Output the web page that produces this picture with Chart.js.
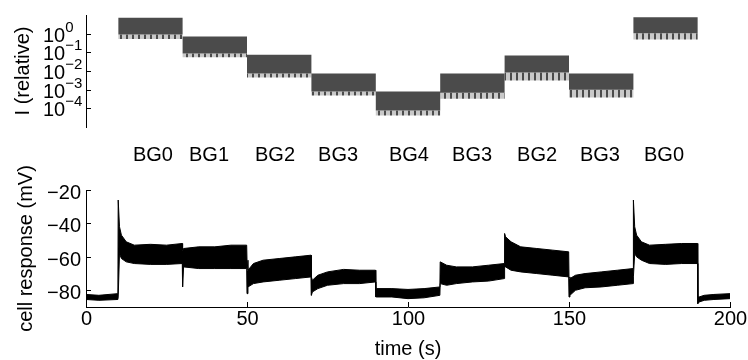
<!DOCTYPE html>
<html>
<head>
<meta charset="utf-8">
<script src="https://cdn.jsdelivr.net/npm/chart.js@4.4.1/dist/chart.umd.min.js"></script>
<style>
  html, body { margin: 0; padding: 0; background: #fff; }
  #top { position: absolute; left: 0; top: 0; width: 748px; height: 140px; }
  #bot { position: absolute; left: 0; top: 140px; width: 748px; height: 220px; }
</style>
</head>
<body>
<div id="top"><canvas id="c1"></canvas></div>
<div id="bot"><canvas id="c2"></canvas></div>
<script>
// stimulus intensity: one background level per 20 s segment
const segStart = [10, 30, 50, 70, 90, 110, 130, 150, 170, 190];
const bandTop   = [7.2, 0.71, 0.074, 0.0074, 0.00079, 0.0074, 0.068, 0.0074, 7.6];
const bandBody  = [0.91, 0.087, 0.0074, 0.00079, 0.000076, 0.00069, 0.0083, 0.001, 1.05];
const bandSpike = [0.52, 0.054, 0.0045, 0.00048, 0.000041, 0.00033, 0.0031, 0.00038, 0.49];
const intensityTicks = [1, 0.1, 0.01, 0.001, 0.0001];

// background labels and where they sit (s)
const bgLabels = ['BG0', 'BG1', 'BG2', 'BG3', 'BG4', 'BG3', 'BG2', 'BG3', 'BG0'];
const bgLabelTimes = [20.8, 38.2, 58.7, 78.3, 100.3, 119.9, 140.1, 159.6, 179.5];

// cell response envelope (mV)
const respT = [0, 4, 9.9, 10, 10.4, 11, 12.5, 15, 20, 25, 29.9,
  30, 30.3, 35, 40, 45, 49.9,
  50, 50.3, 52, 55, 60, 65, 69.9,
  70, 70.3, 72, 75, 80, 85, 89.9,
  90, 90.3, 95, 100, 105, 109.9,
  110, 112, 115, 120, 125, 129.9,
  130, 130.3, 132, 135, 140, 145, 149.9,
  150, 150.3, 152, 155, 160, 165, 169.9,
  170, 170.4, 171, 172.5, 175, 180, 185, 189.9,
  190, 190.4, 192, 195, 200];
const respHi = [-82.5, -83, -82, -26, -42, -47, -51, -53, -52.5, -53, -52,
  -56, -55, -54, -54, -53, -53,
  -62, -68, -64, -62, -61, -60, -59,
  -72, -74, -71, -69, -67.5, -68, -68,
  -78, -79, -79, -79.5, -79, -78,
  -63, -65, -66, -66, -65, -64,
  -46, -48, -51, -54, -55, -56, -57,
  -72, -73, -71, -70, -69, -68, -67,
  -26, -42, -47, -51, -53, -52.5, -52, -52,
  -84, -84, -83, -82.5, -82];
const respLo = [-85.5, -86, -85.5, -84, -58, -61, -63, -64, -64.5, -64.5, -64,
  -78, -66, -67, -67, -67, -67,
  -82, -78, -76, -75, -74, -73, -72,
  -83, -81, -79, -77, -76, -76, -75,
  -84, -84, -84, -85, -84.5, -83,
  -76, -77, -76, -75, -74.5, -73,
  -66, -66, -68, -69, -70, -71, -72,
  -84, -83, -80, -78.5, -78, -77, -76,
  -72, -58, -60, -62, -64, -64.5, -64, -64,
  -88, -87, -86, -85.5, -85];

const yTicks = [-20, -40, -60, -80];
const xTicks = [0, 50, 100, 150, 200];

const FONT = '"Liberation Sans", Arial, sans-serif';
const MINUS = '\u2212';

function steps(vals) {
  const pts = [];
  for (let i = 0; i < vals.length; i++) {
    pts.push({x: segStart[i], y: vals[i]});
    pts.push({x: segStart[i + 1], y: vals[i]});
  }
  return pts;
}

// comb-like fill for the flicker dips under each band
function combPattern() {
  const c = document.createElement('canvas');
  c.width = 6; c.height = 4;
  const g = c.getContext('2d');
  g.fillStyle = 'rgba(75,75,75,0.3)';
  g.fillRect(0, 0, 6, 4);
  g.fillStyle = '#4b4b4b';
  g.fillRect(0, 0, 2, 4);
  return g.createPattern(c, 'repeat');
}

const axisLine = {display: true, color: '#000', width: 1};
const noGrid = {display: false, drawTicks: false};

// top panel: tick marks, 10^n labels, axis title
const topDeco = {
  id: 'topDeco',
  afterDraw(chart) {
    const ctx = chart.ctx, y = chart.scales.y, area = chart.chartArea;
    ctx.save();
    ctx.strokeStyle = '#000';
    ctx.lineWidth = 1;
    ctx.fillStyle = '#000';
    intensityTicks.forEach(v => {
      const py = Math.round(y.getPixelForValue(v)) + 0.5;
      ctx.beginPath();
      ctx.moveTo(area.left, py);
      ctx.lineTo(area.left + 5, py);
      ctx.stroke();
      const e = Math.round(Math.log10(v));
      ctx.font = '20px ' + FONT;
      ctx.textAlign = 'left';
      ctx.textBaseline = 'middle';
      ctx.fillText('10', 43, py + 2);
      const w = ctx.measureText('10').width;
      ctx.font = '15px ' + FONT;
      ctx.fillText(e < 0 ? MINUS + Math.abs(e) : String(e), 43 + w, py - 7);
    });
    ctx.font = '20px ' + FONT;
    ctx.translate(29, (area.top + area.bottom) / 2);
    ctx.rotate(-Math.PI / 2);
    ctx.textAlign = 'center';
    ctx.textBaseline = 'alphabetic';
    ctx.fillText('I (relative)', 0, 0);
    ctx.restore();
  }
};

// bottom panel: inward ticks, labels, titles and BG names
const botDeco = {
  id: 'botDeco',
  afterDraw(chart) {
    const ctx = chart.ctx, x = chart.scales.x, y = chart.scales.y, area = chart.chartArea;
    ctx.save();
    ctx.strokeStyle = '#000';
    ctx.lineWidth = 1;
    ctx.fillStyle = '#000';
    ctx.font = '20px ' + FONT;
    yTicks.forEach(v => {
      const py = Math.round(y.getPixelForValue(v)) + 0.5;
      ctx.beginPath();
      ctx.moveTo(area.left, py);
      ctx.lineTo(area.left + 5, py);
      ctx.stroke();
      ctx.textAlign = 'right';
      ctx.textBaseline = 'middle';
      ctx.fillText(v < 0 ? MINUS + Math.abs(v) : String(v), 81, py + 3);
    });
    xTicks.forEach(v => {
      const px = Math.round(x.getPixelForValue(v)) + 0.5;
      ctx.beginPath();
      ctx.moveTo(px, area.bottom);
      ctx.lineTo(px, area.bottom - 5);
      ctx.stroke();
      ctx.textAlign = 'center';
      ctx.textBaseline = 'middle';
      ctx.fillText(String(v), px, 179);
    });
    ctx.textAlign = 'center';
    ctx.textBaseline = 'middle';
    ctx.fillText('time (s)', x.getPixelForValue(100), 209);
    bgLabels.forEach((s, i) => ctx.fillText(s, x.getPixelForValue(bgLabelTimes[i]), 15));
    ctx.translate(32, (area.top + area.bottom) / 2);
    ctx.rotate(-Math.PI / 2);
    ctx.textBaseline = 'alphabetic';
    ctx.fillText('cell response (mV)', 0, 0);
    ctx.restore();
  }
};

const common = {
  responsive: true,
  maintainAspectRatio: false,
  animation: false,
  devicePixelRatio: 1,
  plugins: {legend: {display: false}, tooltip: {enabled: false}},
  elements: {point: {radius: 0}, line: {tension: 0}}
};

new Chart(document.getElementById('c1'), {
  type: 'line',
  data: {
    datasets: [
      {data: steps(bandTop), borderWidth: 0, fill: false},
      {data: steps(bandBody), borderWidth: 0, fill: '-1', backgroundColor: '#4b4b4b'},
      {data: steps(bandSpike), borderWidth: 0, fill: '-1', backgroundColor: combPattern()}
    ]
  },
  options: Object.assign({}, common, {
    layout: {padding: {left: 86, right: 18, top: 15, bottom: 13}},
    scales: {
      x: {type: 'linear', min: 0, max: 200, display: false},
      y: {type: 'logarithmic', min: 1e-5, max: 10, ticks: {display: false}, grid: noGrid, border: axisLine}
    }
  }),
  plugins: [topDeco]
});

new Chart(document.getElementById('c2'), {
  type: 'line',
  data: {
    datasets: [
      {data: respT.map((t, i) => ({x: t, y: respHi[i]})), borderColor: '#000', borderWidth: 1, fill: false},
      {data: respT.map((t, i) => ({x: t, y: respLo[i]})), borderColor: '#000', borderWidth: 1, fill: '-1', backgroundColor: '#000'}
    ]
  },
  options: Object.assign({}, common, {
    layout: {padding: {left: 86, right: 18, top: 50, bottom: 53}},
    scales: {
      x: {type: 'linear', min: 0, max: 200, ticks: {display: false}, grid: noGrid, border: axisLine},
      y: {type: 'linear', min: -90, max: -20, ticks: {display: false}, grid: noGrid, border: axisLine}
    }
  }),
  plugins: [botDeco]
});
</script>
</body>
</html>
